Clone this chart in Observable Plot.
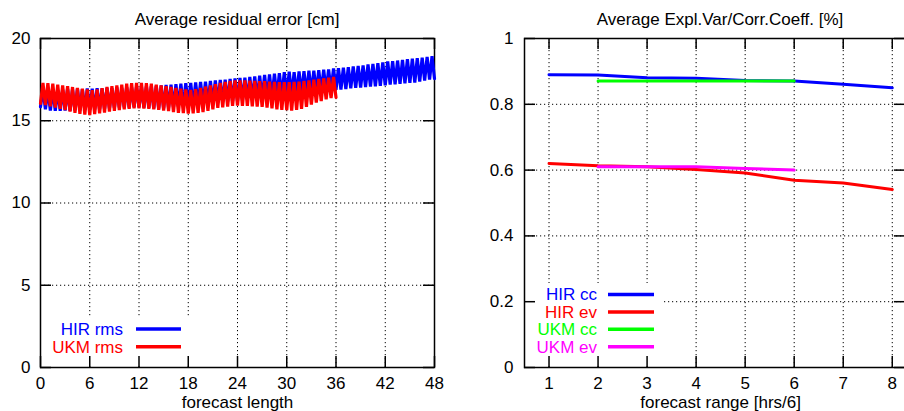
<!DOCTYPE html>
<html><head><meta charset="utf-8">
<script src="https://cdn.jsdelivr.net/npm/d3@7"></script>
<script src="https://cdn.jsdelivr.net/npm/@observablehq/plot@0.6"></script>
<style>
html,body{margin:0;padding:0;overflow:hidden;background:#fff;}
body{width:904px;height:411px;position:relative;font-family:"Liberation Sans",Arial,sans-serif;}
.title{position:absolute;z-index:5;top:10px;font-size:17px;line-height:19px;text-align:center;color:#000;white-space:nowrap;}
#left{position:absolute;left:0;top:0;width:452px;}
#right{position:absolute;left:452px;top:0;width:453px;}
#left svg,#right svg{max-width:none !important;display:block;}
</style></head><body>
<div id="left"></div>
<div id="right"></div>
<div class="title" style="left:37px;width:400px">Average residual error [cm]</div>
<div class="title" style="left:520px;width:400px">Average Expl.Var/Corr.Coeff. [%]</div>
<script>
// ---------- left chart data: residual error [cm] vs forecast length (h), sampled every STEP h ----------
const STEP = 0.6;
const hirLow = [
  15.85,15.7,15.62,15.6,15.6,15.62,15.6,15.63,15.62,15.65,
  15.66,15.68,15.7,15.72,15.75,15.78,15.8,15.82,15.8,15.83,
  15.82,15.8,15.78,15.75,15.74,15.76,15.8,15.83,15.86,15.9,
  15.92,15.95,15.98,16.0,16.03,16.06,16.1,16.13,16.16,16.2,
  16.22,16.25,16.27,16.3,16.33,16.36,16.4,16.42,16.45,16.48,
  16.5,16.53,16.56,16.6,16.62,16.66,16.7,16.75,16.8,16.84,
  16.88,16.9,16.93,16.97,17.0,17.02,17.05,17.08,17.1,17.13,
  17.16,17.2,17.22,17.25,17.28,17.3,17.32,17.38,17.44,17.5,
  17.56];
const hirHigh = [
  16.95,16.9,16.92,16.88,16.9,16.93,16.9,16.95,16.92,16.96,
  16.95,16.98,16.96,17.0,16.98,17.02,17.0,17.04,17.02,17.06,
  17.05,17.08,17.1,17.12,17.15,17.18,17.2,17.22,17.26,17.28,
  17.3,17.33,17.36,17.38,17.42,17.45,17.48,17.5,17.55,17.58,
  17.6,17.62,17.66,17.7,17.74,17.78,17.82,17.86,17.9,17.95,
  17.98,17.96,18.0,18.02,18.05,18.04,18.08,18.1,18.12,18.18,
  18.2,18.22,18.26,18.3,18.34,18.36,18.42,18.46,18.5,18.55,
  18.6,18.62,18.66,18.7,18.74,18.78,18.8,18.84,18.88,18.92];
const ukmLow = [
  16.05,15.95,15.88,15.8,15.72,15.65,15.55,15.48,15.42,15.38,
  15.35,15.4,15.45,15.5,15.55,15.6,15.65,15.7,15.72,15.75,
  15.76,15.74,15.72,15.7,15.66,15.62,15.58,15.52,15.48,15.46,
  15.44,15.45,15.48,15.52,15.6,15.7,15.78,15.82,15.86,15.9,
  15.92,15.9,15.9,15.88,15.86,15.84,15.8,15.76,15.7,15.66,
  15.64,15.62,15.66,15.72,15.85,15.98,16.1,16.2,16.3,16.38,
  16.42];
const ukmHigh = [
  17.3,17.28,17.25,17.2,17.15,17.1,17.05,17.0,16.95,16.9,
  16.86,16.9,16.98,17.05,17.1,17.15,17.2,17.25,17.28,17.3,
  17.3,17.28,17.25,17.2,17.15,17.1,17.05,17.0,16.95,16.9,
  16.88,16.92,17.0,17.08,17.15,17.22,17.3,17.36,17.42,17.45,
  17.46,17.45,17.44,17.42,17.4,17.4,17.38,17.36,17.35,17.34,
  17.34,17.36,17.38,17.42,17.45,17.5,17.55,17.58,17.62,17.66];
const leftXTicks = [0,6,12,18,24,30,36,42,48];
const leftYTicks = [0,5,10,15,20];
const leftLegend = [{label:"HIR rms", color:"#0000ff"},{label:"UKM rms", color:"#ff0000"}];

// ---------- right chart data ----------
const rangeHIR = [1,2,3,4,5,6,7,8];
const hirCC = [0.89,0.889,0.881,0.879,0.872,0.871,0.861,0.85];
const hirEV = [0.62,0.613,0.61,0.602,0.591,0.569,0.561,0.541];
const rangeUKM = [2,3,4,5,6];
const ukmCC = [0.871,0.871,0.871,0.871,0.871];
const ukmEV = [0.61,0.61,0.61,0.605,0.60];
const rightXTicks = [1,2,3,4,5,6,7,8];
const rightYTicks = [0,0.2,0.4,0.6,0.8,1];
const rightYLabels = ["0","0.2","0.4","0.6","0.8","1"];
const rightLegend = [
  {label:"HIR cc", color:"#0000ff"},{label:"HIR ev", color:"#ff0000"},
  {label:"UKM cc", color:"#00ff00"},{label:"UKM ev", color:"#ff00ff"}];

function zigzag(lows, highs) {
  const out = [];
  lows.forEach((v, i) => {
    out.push({h: i * STEP, v});
    if (i < highs.length) out.push({h: i * STEP + STEP / 2, v: highs[i]});
  });
  return out;
}
const hirData = zigzag(hirLow, hirHigh);
const ukmData = zigzag(ukmLow, ukmHigh);

const FONT = "Liberation Sans, Arial, sans-serif";
const FS = 17;
const TICK = 11;
const dots = {stroke: "#000", strokeWidth: 1, strokeDasharray: "1.2,2.8"};

function innerTicks(xt, yt, pw, ph) {
  return [
    Plot.tickX(xt, {x: d => d, insetTop: ph - TICK, stroke: "#000", strokeWidth: 1.5}),
    Plot.tickX(xt, {x: d => d, insetBottom: ph - TICK, stroke: "#000", strokeWidth: 1.5}),
    Plot.tickY(yt, {y: d => d, insetRight: pw - TICK, stroke: "#000", strokeWidth: 1.5}),
    Plot.tickY(yt, {y: d => d, insetLeft: pw - TICK, stroke: "#000", strokeWidth: 1.5})
  ];
}

// ---------- left plot ----------
const L = {w: 452, h: 411, ml: 40, mr: 18, mt: 38, mb: 44};
const Lpw = L.w - L.ml - L.mr, Lph = L.h - L.mt - L.mb;
const left = Plot.plot({
  width: L.w, height: L.h,
  marginLeft: L.ml, marginRight: L.mr, marginTop: L.mt, marginBottom: L.mb,
  style: {fontFamily: FONT, fontSize: FS + "px", background: "#fff", color: "#000"},
  x: {domain: [0, 48]},
  y: {domain: [0, 20]},
  marks: [
    Plot.ruleX(leftXTicks.slice(1, -1), {x: d => d, ...dots}),
    Plot.ruleY(leftYTicks.slice(1, -1), {y: d => d, ...dots}),
    Plot.frame({stroke: "#000", strokeWidth: 1.5}),
    ...innerTicks(leftXTicks, leftYTicks, Lpw, Lph),
    Plot.axisX({ticks: leftXTicks, tickSize: 0, tickPadding: 9, fontSize: FS, label: null}),
    Plot.axisY({ticks: leftYTicks, tickSize: 0, tickPadding: 10, fontSize: FS, label: null}),
    Plot.line(hirData, {x: "h", y: "v", stroke: "#0000ff", strokeWidth: 3.2, strokeLinejoin: "miter", strokeMiterlimit: 3}),
    Plot.line(ukmData, {x: "h", y: "v", stroke: "#ff0000", strokeWidth: 3.2, strokeLinejoin: "miter", strokeMiterlimit: 3}),
    Plot.text(["forecast length"], {frameAnchor: "bottom", dy: 40, fontSize: FS, fill: "#000", lineAnchor: "bottom"})
  ]
});
document.getElementById("left").appendChild(left);

// ---------- right plot (frame's right edge falls at the window edge, as in the reference) ----------
const R = {w: 453, h: 411, ml: 72, mr: 0, mt: 38, mb: 44};
const Rpw = R.w - R.ml - R.mr, Rph = R.h - R.mt - R.mb;
const right = Plot.plot({
  width: R.w, height: R.h,
  marginLeft: R.ml, marginRight: R.mr, marginTop: R.mt, marginBottom: R.mb,
  style: {fontFamily: FONT, fontSize: FS + "px", background: "#fff", color: "#000"},
  x: {domain: [0.5, 8.27]},
  y: {domain: [0, 1]},
  marks: [
    Plot.ruleX(rightXTicks, {x: d => d, ...dots}),
    Plot.ruleY(rightYTicks.slice(1, -1), {y: d => d, ...dots}),
    Plot.frame({stroke: "#000", strokeWidth: 1.5}),
    ...innerTicks(rightXTicks, rightYTicks, Rpw, Rph),
    Plot.axisX({ticks: rightXTicks, tickSize: 0, tickPadding: 9, fontSize: FS, label: null}),
    Plot.axisY({ticks: rightYTicks, tickSize: 0, tickPadding: 11, fontSize: FS, label: null,
      tickFormat: d => rightYLabels[rightYTicks.indexOf(d)]}),
    Plot.line(rangeHIR, {x: d => d, y: (d, i) => hirCC[i], stroke: "#0000ff", strokeWidth: 3}),
    Plot.line(rangeHIR, {x: d => d, y: (d, i) => hirEV[i], stroke: "#ff0000", strokeWidth: 3}),
    Plot.line(rangeUKM, {x: d => d, y: (d, i) => ukmCC[i], stroke: "#00ff00", strokeWidth: 3}),
    Plot.line(rangeUKM, {x: d => d, y: (d, i) => ukmEV[i], stroke: "#ff00ff", strokeWidth: 3}),
    Plot.text(["forecast range [hrs/6]"], {x: 4.5, frameAnchor: "bottom", dy: 40, fontSize: FS, fill: "#000", lineAnchor: "bottom"})
  ]
});
document.getElementById("right").appendChild(right);

// ---------- keys (white box hides grid, then samples) ----------
function addKey(svg, items, box, textRight, lineX1, lineX2, y0, dyRow) {
  const s = d3.select(svg);
  s.insert("rect", '[aria-label="frame"]')
    .attr("x", box[0]).attr("y", box[1]).attr("width", box[2]).attr("height", box[3])
    .attr("fill", "#fff");
  const g = s.append("g").attr("font-family", FONT).attr("font-size", FS);
  items.forEach((it, i) => {
    const y = y0 + i * dyRow;
    g.append("text").attr("x", textRight).attr("y", y).attr("dy", "0.35em")
      .attr("text-anchor", "end").attr("fill", it.color).text(it.label);
    g.append("line").attr("x1", lineX1).attr("x2", lineX2).attr("y1", y).attr("y2", y)
      .attr("stroke", it.color).attr("stroke-width", 3.5);
  });
}
addKey(left, leftLegend, [41, 318, 154, 48], 123, 136, 181, 329, 17.7);
addKey(right, rightLegend, [73, 283, 139, 83], 145, 156, 202, 294.5, 17.4);
</script>
</body></html>
